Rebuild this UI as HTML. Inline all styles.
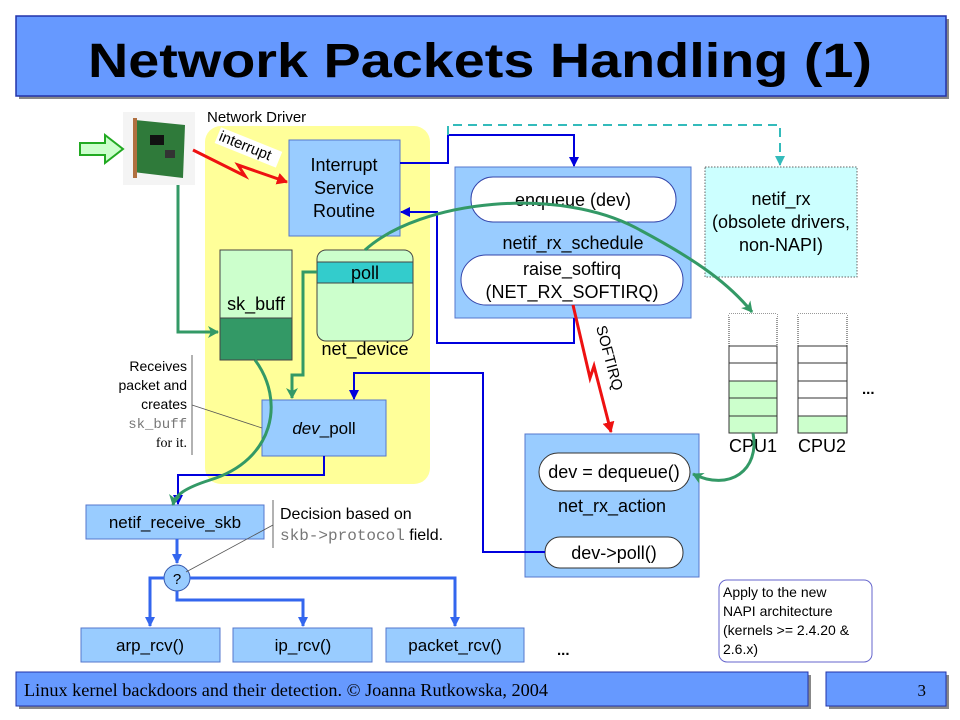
<!DOCTYPE html>
<html><head><meta charset="utf-8"><style>
html,body{margin:0;padding:0;background:#fff}
svg{display:block}
text{font-family:"Liberation Sans",sans-serif}
</style></head><body>
<svg width="960" height="720" viewBox="0 0 960 720" xmlns="http://www.w3.org/2000/svg">
<defs>
<marker id="ab" markerWidth="10" markerHeight="10" refX="9" refY="5" orient="auto" markerUnits="userSpaceOnUse"><path d="M0,0 L10,5 L0,10 z" fill="#0000dd"/></marker>
<marker id="ab2" markerWidth="10" markerHeight="10" refX="9" refY="5" orient="auto" markerUnits="userSpaceOnUse"><path d="M0,0 L10,5 L0,10 z" fill="#3366ee"/></marker>
<marker id="ag" markerWidth="12" markerHeight="12" refX="10" refY="6" orient="auto" markerUnits="userSpaceOnUse"><path d="M0,0 L11,6 L0,12 L3,6 z" fill="#339966"/></marker>
<marker id="ar" markerWidth="12" markerHeight="12" refX="10" refY="6" orient="auto" markerUnits="userSpaceOnUse"><path d="M0,0 L11,6 L0,12 z" fill="#ee1111"/></marker>
<marker id="ac" markerWidth="10" markerHeight="10" refX="9" refY="5" orient="auto" markerUnits="userSpaceOnUse"><path d="M0,0 L10,5 L0,10 z" fill="#33bbbb"/></marker>
</defs>

<rect x="19" y="19" width="930" height="80" fill="#888"/>
<rect x="16" y="16" width="930" height="80" fill="#6699ff" stroke="#2233aa" stroke-width="1.5"/>
<text x="480" y="77" text-anchor="middle" font-size="48" font-weight="bold" textLength="784" lengthAdjust="spacingAndGlyphs">Network Packets Handling (1)</text>

<rect x="19" y="675" width="792" height="34" fill="#888"/>
<rect x="16" y="672" width="792" height="34" fill="#6699ff" stroke="#2233aa"/>
<text x="24" y="696" font-size="18" textLength="524" lengthAdjust="spacingAndGlyphs" style="font-family:'Liberation Serif',serif">Linux kernel backdoors and their detection. © Joanna Rutkowska, 2004</text>
<rect x="829" y="675" width="120" height="34" fill="#888"/>
<rect x="826" y="672" width="120" height="34" fill="#6699ff" stroke="#2233aa"/>
<text x="926" y="696" font-size="17" text-anchor="end" style="font-family:'Liberation Serif',serif">3</text>

<rect x="205" y="126" width="225" height="358" rx="16" fill="#ffff99"/>
<text x="207" y="122" font-size="15">Network Driver</text>

<rect x="123" y="112" width="72" height="73" fill="#f4f4f4"/>
<polygon points="135,120 185,125 183,178 133,172" fill="#2f7a3a"/>
<rect x="133" y="118" width="4" height="60" fill="#b07040"/>
<rect x="150" y="135" width="14" height="10" fill="#111"/>
<rect x="165" y="150" width="10" height="8" fill="#333"/>
<polygon points="80,143 105,143 105,135 123,149 105,163 105,155 80,155" fill="#ccffcc" stroke="#22aa22" stroke-width="2"/>

<rect x="289" y="140" width="111" height="96" fill="#99ccff" stroke="#5577cc"/>
<text x="344" y="171" font-size="18" text-anchor="middle">Interrupt</text>
<text x="344" y="194" font-size="18" text-anchor="middle">Service</text>
<text x="344" y="217" font-size="18" text-anchor="middle">Routine</text>

<rect x="220" y="250" width="72" height="68" fill="#ccffcc" stroke="#444"/>
<rect x="220" y="318" width="72" height="42" fill="#339966" stroke="#444"/>
<text x="256" y="310" font-size="18" text-anchor="middle">sk_buff</text>

<rect x="317" y="250" width="96" height="91" rx="9" fill="#ccffcc" stroke="#444"/>
<rect x="317" y="262" width="96" height="21" fill="#33cccc" stroke="#444"/>
<text x="365" y="279" font-size="18" text-anchor="middle">poll</text>
<text x="365" y="355" font-size="18" text-anchor="middle">net_device</text>

<rect x="262" y="400" width="124" height="56" fill="#99ccff" stroke="#5577cc"/>
<text x="324" y="434" font-size="17" text-anchor="middle"><tspan font-style="italic">dev</tspan>_poll</text>

<rect x="86" y="505" width="178" height="34" fill="#99ccff" stroke="#5577cc"/>
<text x="175" y="528" font-size="17" text-anchor="middle">netif_receive_skb</text>

<circle cx="177" cy="578" r="13" fill="#99ccff" stroke="#3355aa"/>
<text x="177" y="584" font-size="15" text-anchor="middle">?</text>

<rect x="81" y="628" width="139" height="34" fill="#99ccff" stroke="#5577cc"/>
<text x="150" y="651" font-size="17" text-anchor="middle">arp_rcv()</text>
<rect x="233" y="628" width="139" height="34" fill="#99ccff" stroke="#5577cc"/>
<text x="303" y="651" font-size="17" text-anchor="middle">ip_rcv()</text>
<rect x="386" y="628" width="138" height="34" fill="#99ccff" stroke="#5577cc"/>
<text x="455" y="651" font-size="17" text-anchor="middle">packet_rcv()</text>
<text x="557" y="655" font-size="15" font-weight="bold">...</text>

<g stroke="#3366ee" stroke-width="3" fill="none">
<path d="M177,539 V563" marker-end="url(#ab2)"/>
<path d="M164,578 H150 V626" marker-end="url(#ab2)"/>
<path d="M190,578 H455 V626" marker-end="url(#ab2)"/>
<path d="M177,591 V600 H303 V626" marker-end="url(#ab2)"/>
</g>

<g font-size="14" text-anchor="end">
<text x="187" y="371">Receives</text>
<text x="187" y="390">packet and</text>
<text x="187" y="409">creates</text>
<text x="187" y="428" style="font-family:'Liberation Mono',monospace" fill="#777">sk_buff</text>
<text x="187" y="447" style="font-family:'Liberation Serif',serif">for it.</text>
</g>
<line x1="192" y1="355" x2="192" y2="455" stroke="#666"/>
<line x1="192" y1="405" x2="262" y2="428" stroke="#555" stroke-width="0.8"/>
<text x="280" y="519" font-size="16">Decision based on</text>
<text x="280" y="540" font-size="16"><tspan style="font-family:'Liberation Mono',monospace" fill="#777">skb-&gt;protocol</tspan> field.</text>
<line x1="273" y1="500" x2="273" y2="548" stroke="#666"/>
<line x1="273" y1="525" x2="186" y2="572" stroke="#555" stroke-width="0.8"/>

<rect x="455" y="167" width="236" height="151" fill="#99ccff" stroke="#5577cc"/>
<rect x="471" y="177" width="205" height="45" rx="22" fill="#fff" stroke="#3344aa"/>
<text x="573" y="206" font-size="18" text-anchor="middle">enqueue (dev)</text>
<text x="573" y="249" font-size="18" text-anchor="middle">netif_rx_schedule</text>
<rect x="461" y="255" width="222" height="50" rx="25" fill="#fff" stroke="#3344aa"/>
<text x="572" y="275" font-size="18" text-anchor="middle">raise_softirq</text>
<text x="572" y="298" font-size="18" text-anchor="middle">(NET_RX_SOFTIRQ)</text>

<rect x="705" y="167" width="152" height="110" fill="#ccffff" stroke="#666" stroke-dasharray="1.5,1.5"/>
<text x="781" y="205" font-size="18" text-anchor="middle">netif_rx</text>
<text x="781" y="228" font-size="18" text-anchor="middle">(obsolete drivers,</text>
<text x="781" y="251" font-size="18" text-anchor="middle">non-NAPI)</text>

<g stroke="#333" fill="#fff">
<rect x="729" y="314" width="48" height="32" stroke-dasharray="1,1"/>
<rect x="729" y="346" width="48" height="17"/>
<rect x="729" y="363" width="48" height="18"/>
<rect x="729" y="381" width="48" height="17" fill="#ccffcc"/>
<rect x="729" y="398" width="48" height="18" fill="#ccffcc"/>
<rect x="729" y="416" width="48" height="17" fill="#ccffcc"/>
<rect x="798" y="314" width="49" height="32" stroke-dasharray="1,1"/>
<rect x="798" y="346" width="49" height="17"/>
<rect x="798" y="363" width="49" height="18"/>
<rect x="798" y="381" width="49" height="17"/>
<rect x="798" y="398" width="49" height="18"/>
<rect x="798" y="416" width="49" height="17" fill="#ccffcc"/>
</g>
<rect x="729" y="314" width="48" height="3" fill="#fff"/>
<rect x="798" y="314" width="49" height="3" fill="#fff"/>
<text x="753" y="452" font-size="18" text-anchor="middle">CPU1</text>
<text x="822" y="452" font-size="18" text-anchor="middle">CPU2</text>
<text x="862" y="394" font-size="15" font-weight="bold">...</text>

<rect x="525" y="434" width="174" height="143" fill="#99ccff" stroke="#5577cc"/>
<rect x="539" y="453" width="151" height="38" rx="19" fill="#fff" stroke="#333"/>
<text x="614" y="478" font-size="18" text-anchor="middle">dev = dequeue()</text>
<text x="612" y="512" font-size="18" text-anchor="middle">net_rx_action</text>
<rect x="545" y="537" width="138" height="31" rx="15" fill="#fff" stroke="#333"/>
<text x="614" y="559" font-size="18" text-anchor="middle">dev-&gt;poll()</text>

<rect x="719" y="580" width="153" height="82" rx="8" fill="#fff" stroke="#6666cc"/>
<g font-size="14"><text x="723" y="597">Apply to the new</text><text x="723" y="616">NAPI architecture</text><text x="723" y="635">(kernels &gt;= 2.4.20 &amp;</text><text x="723" y="654">2.6.x)</text></g>

<g stroke="#0000dd" stroke-width="2" fill="none">
<path d="M400,163 H448 V135 H574 V166" marker-end="url(#ab)"/>
<path d="M574,318 V343 H437 V212 H401" marker-end="url(#ab)"/>
<path d="M545,552 H483 V373 H354 V399" marker-end="url(#ab)"/>
<path d="M324,456 V475 H178 V504" marker-end="url(#ab)"/>
</g>
<path d="M448,135 V125 H780 V165" stroke="#33bbbb" stroke-width="2" fill="none" stroke-dasharray="9,6" marker-end="url(#ac)"/>

<g stroke="#339966" stroke-width="3" fill="none">
<path d="M178,185 V332 H218" marker-end="url(#ag)"/>
<path d="M317,272 H303 V375 H292 V398" marker-end="url(#ag)"/>
<path d="M365,250 C420,200 560,185 640,230 C700,262 730,285 752,312" marker-end="url(#ag)"/>
<path d="M255,360 C285,400 275,460 210,480 C185,488 175,495 173,505" marker-end="url(#ag)"/>
<path d="M753,433 C760,470 730,492 693,474" marker-end="url(#ag)"/>
</g>

<g stroke="#ee1111" stroke-width="3" fill="none">
<path d="M193,150 L245,176 L238,165 L287,182" marker-end="url(#ar)"/>
<path d="M573,305 L590,378 L594,366 L611,432" marker-end="url(#ar)"/>
</g>
<g transform="translate(218,140) rotate(22)"><rect x="-2" y="-13" width="66" height="17" fill="#fff"/><text x="0" y="0" font-size="15">interrupt</text></g>
<text transform="translate(596,327) rotate(75)" font-size="15">SOFTIRQ</text>
</svg>
</body></html>
